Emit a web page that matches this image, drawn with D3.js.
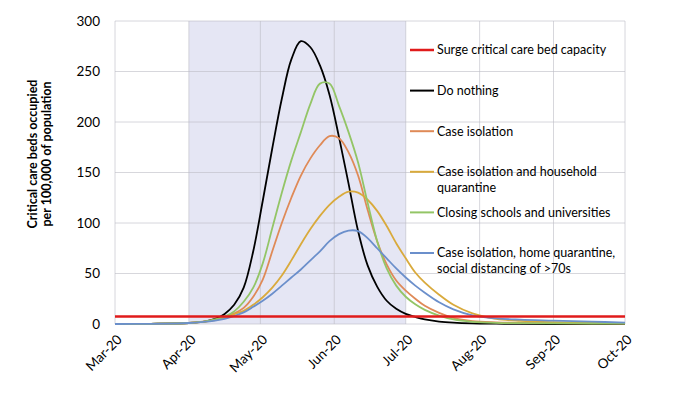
<!DOCTYPE html>
<html lang="en">
<head>
<meta charset="UTF-8">
<title>critical care beds</title>
<script src="https://cdn.jsdelivr.net/npm/d3@7/dist/d3.min.js"></script>
<style>
    body { margin: 0; background: #fff; }
    #chart { width: 680px; height: 412px; }
    text { font-family: Lato, "Open Sans", sans-serif; fill: #000; }
    .grid line { stroke: #bdbdc4; stroke-opacity: 0.6; stroke-width: 1px; }
    .series { fill: none; stroke-width: 1.8px; }
</style>
</head>
<body>
<div id="chart"></div>
<script>
    // days after 1 Mar 2020
    let days = [0, 15, 31, 38, 42, 46, 50, 54, 58, 62, 66, 70, 74, 78, 82, 86, 90, 94, 98, 102,
        106, 110, 114, 118, 122, 126, 130, 136, 142, 150, 160, 170, 184, 200, 214];

    let doNothing = [0, 0.2, 1, 2.5, 5, 10, 19, 36, 72, 122, 174, 223, 262, 280, 274, 256, 227, 185, 139, 92,
        58, 37, 23, 15, 10, 7, 4.5, 2.4, 1.3, 0.6, 0.3, 0.1, 0, 0, 0];
    let caseIsolation = [0, 0.2, 1, 2.5, 4.3, 6.8, 10.5, 16, 27, 44, 72, 100, 125, 147, 164, 177, 186, 184, 170, 147,
        113, 82, 59, 43, 33, 25, 18, 11, 6, 2.8, 1.6, 1.1, 0.8, 0.6, 0.5];
    let householdQuarantine = [0, 0.2, 1, 2.3, 3.8, 6.2, 9.8, 13, 19, 26.5, 36, 48, 63, 79, 94, 107, 118, 126, 131, 130,
        123, 112, 97, 80, 65, 51, 41, 29, 19, 10.5, 5, 3, 1.8, 1.2, 0.8];
    let closingSchools = [0, 0.2, 1, 2.5, 4.5, 7.3, 12.5, 22, 36, 60, 95, 130, 162, 190, 218, 238, 238, 216, 190, 160,
        120, 82, 55, 38, 27, 19.5, 14, 8.3, 4.5, 2.2, 1.1, 0.8, 0.6, 0.5, 0.4];
    let socialDistancing = [0, 0.2, 1, 2.3, 3.3, 5, 8, 11.5, 17, 23, 30, 38, 46, 54, 63, 72, 82, 89, 92.5, 92,
        85, 75, 65, 55, 46, 38, 31, 21.5, 14.5, 8.5, 5.5, 4.3, 3.4, 2.4, 1.3];

    let surgeCapacity = 7.5;
    let shadeStart = "2020-04-01", shadeEnd = "2020-07-01";
    let yTicks = [0, 50, 100, 150, 200, 250, 300];

    let seriesNames = ["Do nothing", "Case isolation", "Case isolation and household quarantine",
        "Closing schools and universities", "Case isolation, home quarantine, social distancing of >70s"];
    let seriesValues = [doNothing, caseIsolation, householdQuarantine, closingSchools, socialDistancing];
    let seriesColors = ["#000000", "#df8a57", "#d9aa3c", "#93c566", "#6b8fcb"];

    let legendLabels = [
        ["Surge critical care bed capacity"],
        ["Do nothing"],
        ["Case isolation"],
        ["Case isolation and household", "quarantine"],
        ["Closing schools and universities"],
        ["Case isolation, home quarantine,", "social distancing of >70s"]
    ];
    let legendColors = ["#e01b1b"].concat(seriesColors);

    let draw = () => {
        let svg = d3.select("#chart").append("svg")
            .attr("width", 680)
            .attr("height", 412);

        let padding = { top: 21, left: 115, bottom: 88, right: 55 };
        let width = 680 - padding.left - padding.right;
        let height = 412 - padding.top - padding.bottom;

        let focus = svg.append("g")
            .attr("transform", "translate(" + padding.left + "," + padding.top + ")");

        let parse = d3.timeParse("%Y-%m-%d");
        let start = parse("2020-03-01");
        let x = d3.scaleTime()
            .domain([start, parse("2020-10-01")])
            .range([0, width]);
        let y = d3.scaleLinear()
            .domain([0, 300])
            .range([height, 0]);

        // intervention period
        focus.append("rect")
            .attr("x", x(parse(shadeStart)))
            .attr("y", y(300))
            .attr("width", x(parse(shadeEnd)) - x(parse(shadeStart)))
            .attr("height", y(0) - y(300))
            .attr("fill", "#e5e6f4");

        // grid
        let grid = focus.append("g").attr("class", "grid");
        grid.selectAll(".h").data(yTicks).enter().append("line")
            .attr("x1", 0).attr("x2", width)
            .attr("y1", d => y(d)).attr("y2", d => y(d));
        grid.selectAll(".v").data(x.ticks(d3.timeMonth.every(1))).enter().append("line")
            .attr("x1", d => x(d)).attr("x2", d => x(d))
            .attr("y1", y(0)).attr("y2", y(300));

        // y axis
        let yAxis = focus.append("g")
            .call(d3.axisLeft(y).tickValues(yTicks).tickSize(0).tickPadding(15));
        yAxis.select(".domain").remove();
        yAxis.selectAll("text").style("font-size", "13.5px").style("font-family", "Lato");

        // x axis
        let xAxis = focus.append("g")
            .attr("transform", "translate(0," + height + ")")
            .call(d3.axisBottom(x).ticks(d3.timeMonth.every(1)).tickFormat(d3.timeFormat("%b-%y")).tickSize(0));
        xAxis.select(".domain").remove();
        xAxis.selectAll("text")
            .style("font-size", "13.5px")
            .style("font-family", "Lato")
            .attr("text-anchor", "end")
            .attr("y", 0)
            .attr("dy", "0.35em")
            .attr("transform", "translate(4,13) rotate(-45)");

        // series
        let line = d3.line().curve(d3.curveCatmullRom.alpha(0.5))
            .x((d, i) => x(d3.timeDay.offset(start, days[i])))
            .y(d => y(d));

        seriesValues.forEach((vals, i) => {
            focus.append("path")
                .attr("class", "series")
                .attr("d", line(vals))
                .attr("stroke", seriesColors[i]);
        });

        // surge capacity
        focus.append("line")
            .attr("x1", 0).attr("x2", width)
            .attr("y1", y(surgeCapacity)).attr("y2", y(surgeCapacity))
            .attr("stroke", legendColors[0])
            .attr("stroke-width", 2.5);

        // legend
        let legend = svg.append("g").attr("transform", "translate(410,50)");
        legendLabels.forEach((lines, i) => {
            let g = legend.append("g").attr("transform", "translate(0," + (i * 40.6) + ")");
            g.append("line")
                .attr("x1", 0).attr("x2", 24)
                .attr("stroke", legendColors[i])
                .attr("stroke-width", i == 0 ? 2.5 : 2);
            let t = g.append("text")
                .attr("x", 27)
                .style("font-size", "12.5px");
            lines.forEach((l, j) => {
                t.append("tspan").attr("x", 27).attr("dy", j == 0 ? "0.35em" : "16px").text(l);
            });
        });

        // y title
        let title = svg.append("text")
            .attr("transform", "translate(40,154) rotate(-90)")
            .attr("text-anchor", "middle")
            .style("font-size", "12.5px")
            .style("font-weight", "bold");
        title.append("tspan").attr("x", 0).attr("y", -7).attr("dy", "0.35em").text("Critical care beds occupied");
        title.append("tspan").attr("x", 0).attr("y", 7).attr("dy", "0.35em").text("per 100,000 of population");
    }

    draw();
</script>
</body>
</html>
